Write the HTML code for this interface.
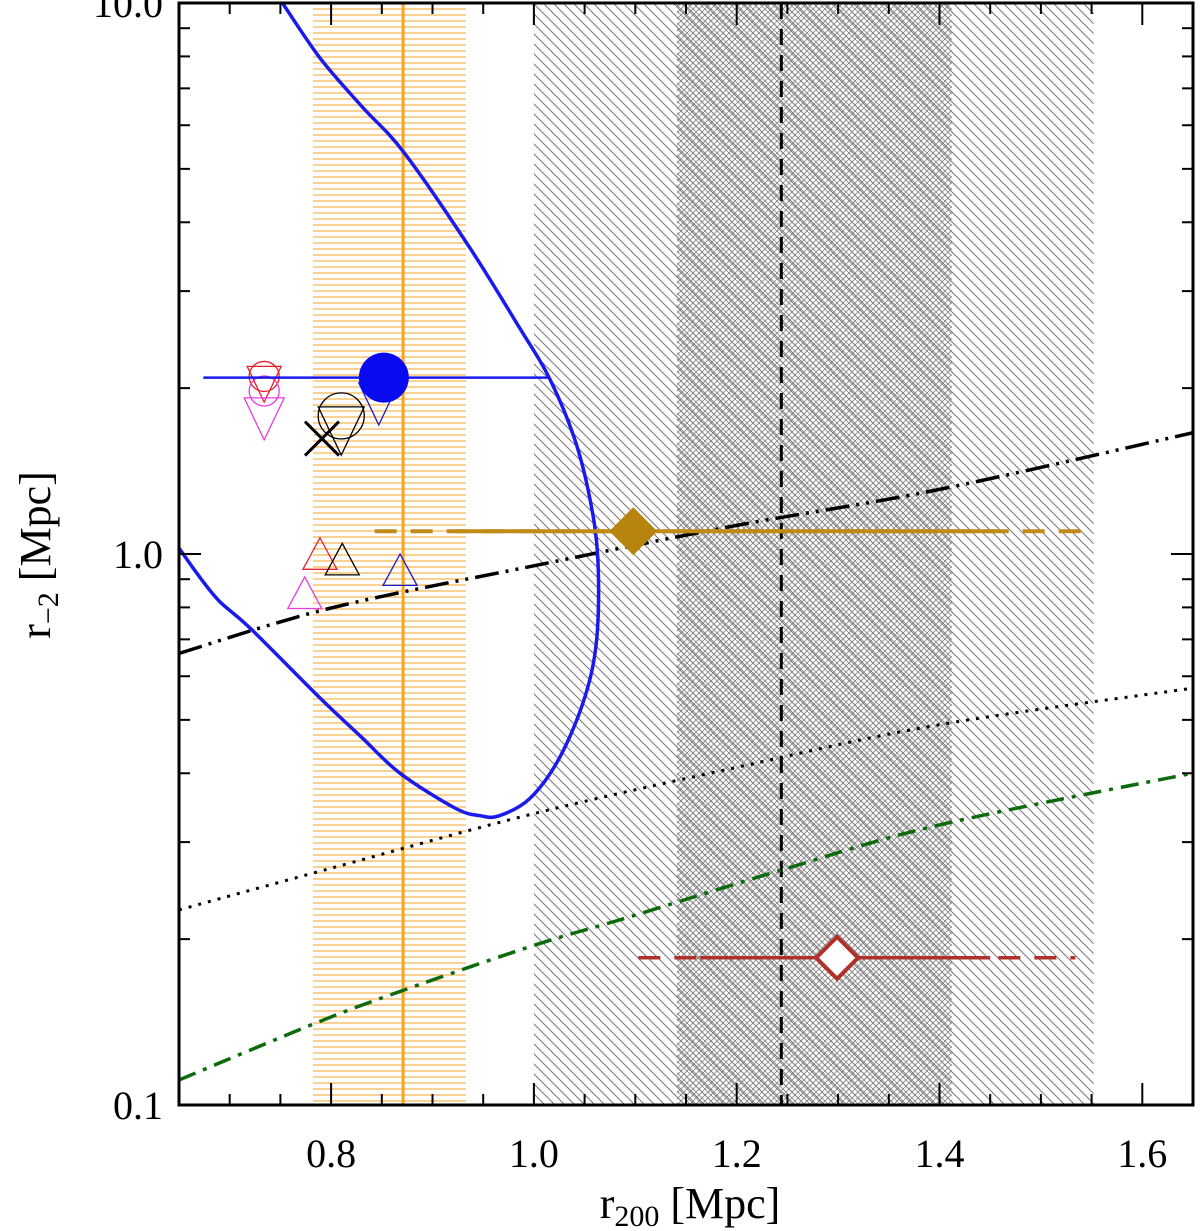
<!DOCTYPE html>
<html><head><meta charset="utf-8"><style>
html,body{margin:0;padding:0;background:#fff;}
svg{display:block;}
</style></head><body>
<svg id="chart" width="1200" height="1231" viewBox="0 0 1200 1231" xmlns="http://www.w3.org/2000/svg">
<defs>
<pattern id="hOrange" patternUnits="userSpaceOnUse" width="8" height="6"><line x1="0" y1="3" x2="8" y2="3" stroke="#f2b24a" stroke-width="1.2"/></pattern>
<pattern id="hDiag" patternUnits="userSpaceOnUse" width="10" height="10"><path d="M-5,-5 L15,15 M-5,5 L5,15 M5,-5 L15,5" stroke="#777" stroke-width="1"/></pattern>
<pattern id="hCross" patternUnits="userSpaceOnUse" width="6" height="6"><path d="M-3,-3 L9,9 M-3,3 L3,9 M3,-3 L9,3 M-3,9 L9,-3 M-3,3 L3,-3 M3,9 L9,3" stroke="#888" stroke-width="0.9"/></pattern>
<clipPath id="plotClip"><rect x="179" y="3" width="1014" height="1102"/></clipPath>
</defs>
<g id="plot" clip-path="url(#plotClip)"></g>
<g id="axes"></g>
<text x="690" y="1218" text-anchor="middle" style="font-family:'Liberation Serif',serif" font-size="44">r<tspan font-size="30" dy="8">200</tspan><tspan dy="-8"> [Mpc]</tspan></text>
<text transform="translate(50,555) rotate(-90)" text-anchor="middle" style="font-family:'Liberation Serif',serif" font-size="44">r<tspan font-size="30" dy="8">−2</tspan><tspan dy="-8"> [Mpc]</tspan></text>
</svg>
<script>
const NS="http://www.w3.org/2000/svg";
// ---- data ----
const xDomain=[0.65,1.65];
const yDomain=[0.1,10];
const xTicks=[0.8,1.0,1.2,1.4,1.6];
const xTickLabels=["0.8","1.0","1.2","1.4","1.6"];
const yTicks=[0.1,1,10];
const yTickLabels=["0.1","1.0","10.0"];
const orangeBand=[0.782,0.933];
const orangeLineX=0.871;
const grayOuter=[1.0,1.552];
const grayInner=[1.141,1.412];
const dashedLineX=1.244;
const contourX=[0.752,0.789,0.830,0.872,0.937,0.986,1.015,1.040,1.055,1.063,1.062,1.050,1.025,0.996,0.966,0.947,0.922,0.868,0.830,0.789,0.720,0.690,0.671,0.65];
const contourY=[10,7.95,6.5,5.35,3.59,2.57,2.09,1.62,1.265,0.984,0.704,0.548,0.426,0.360,0.335,0.335,0.346,0.400,0.465,0.548,0.734,0.82,0.905,1.025];
const dashDotDotX=[0.65,0.8,1.0,1.2,1.4,1.65];
const dashDotDotY=[0.66,0.798,0.952,1.127,1.31,1.66];
const dottedX=[0.65,0.8,1.0,1.2,1.4,1.65];
const dottedY=[0.226,0.269,0.338,0.41,0.49,0.571];
const greenX=[0.65,0.785,0.872,1.001,1.094,1.244,1.4,1.65];
const greenY=[0.111,0.1409,0.1617,0.1951,0.2194,0.2669,0.3223,0.4003];
const bluePoint={x:0.852,y:2.09,lo:0.674,hi:1.015};
const goldPoint={x:1.098,y:1.10,slo:0.922,shi:1.455,dlo:0.843,dhi:1.543};
const redPoint={x:1.299,y:0.185,slo:1.164,shi:1.450,dlo:1.103,dhi:1.534};
const markerNames=["red-circle","magenta-circle","red-down-triangle","magenta-down-triangle","black-circle","black-down-triangle","black-cross","blue-down-triangle","red-up-triangle","black-up-triangle","blue-up-triangle","magenta-up-triangle"];
const markerX=[0.734,0.734,0.734,0.734,0.810,0.810,0.791,0.847,0.789,0.811,0.868,0.774];
const markerY=[2.10,1.976,2.04,1.766,1.781,1.68,1.62,1.88,1.0,0.977,0.935,0.849];
const markerType=["circle","circle","down","down","circle","down","x","down","up","up","up","up"];
const markerColor=["#e8202a","#e83ce0","#e8202a","#e83ce0","#000","#000","#000","#1a1ad0","#e8202a","#000","#1a1ad0","#e83ce0"];
const markerSize=[15,15,17,20,23,23,17,20,17,17,17,17];
// ---- scales ----
const L=179,R=1193,T=3,B=1105;
const sx=v=>L+(v-xDomain[0])/(xDomain[1]-xDomain[0])*(R-L);
const sy=v=>T+(Math.log10(yDomain[1])-Math.log10(v))/(Math.log10(yDomain[1])-Math.log10(yDomain[0]))*(B-T);
const plot=document.getElementById('plot'), axes=document.getElementById('axes');
function el(tag,attrs,parent){const e=document.createElementNS(NS,tag);for(const k in attrs)e.setAttribute(k,attrs[k]);(parent||plot).appendChild(e);return e;}
function band(a,b,fill,name){const e=el('rect',{x:sx(a),y:T,width:sx(b)-sx(a),height:B-T,fill:fill});

}
band(orangeBand[0],orangeBand[1],'url(#hOrange)','orange-hatched-band');
band(grayOuter[0],grayOuter[1],'url(#hDiag)','gray-hatched-band-outer');
band(grayInner[0],grayInner[1],'url(#hCross)','gray-crosshatched-band-inner');
let e;
e=el('line',{x1:sx(orangeLineX),x2:sx(orangeLineX),y1:T,y2:B,stroke:'#f5a623','stroke-width':3});


e=el('line',{x1:sx(dashedLineX),x2:sx(dashedLineX),y1:T,y2:B,stroke:'#000','stroke-width':3,'stroke-dasharray':'16,10'});


function poly(xs,ys,attrs,name){
const pts=xs.map((x,i)=>[sx(x),sy(ys[i])]);
let d='M'+pts[0][0].toFixed(1)+','+pts[0][1].toFixed(1);
for(let i=0;i<pts.length-1;i++){const p0=pts[Math.max(0,i-1)],p1=pts[i],p2=pts[i+1],p3=pts[Math.min(pts.length-1,i+2)];
const c1=[p1[0]+(p2[0]-p0[0])/6,p1[1]+(p2[1]-p0[1])/6],c2=[p2[0]-(p3[0]-p1[0])/6,p2[1]-(p3[1]-p1[1])/6];
d+=` C${c1[0].toFixed(1)},${c1[1].toFixed(1)} ${c2[0].toFixed(1)},${c2[1].toFixed(1)} ${p2[0].toFixed(1)},${p2[1].toFixed(1)}`;}
const p=el('path',Object.assign({d:d,fill:'none'},attrs));

}
poly(greenX,greenY,{stroke:'#0d6b0d','stroke-width':3.5,'stroke-dasharray':'18,8,4,8'},'green-dash-dot-curve');
poly(dottedX,dottedY,{stroke:'#000','stroke-width':3,'stroke-dasharray':'3,7'},'black-dotted-curve');
poly(dashDotDotX,dashDotDotY,{stroke:'#000','stroke-width':3.5,'stroke-dasharray':'24,7,3,7,3,7'},'black-dash-dot-dot-curve');
poly(contourX,contourY,{stroke:'#1a1aee','stroke-width':3.5,'stroke-linejoin':'round'},'blue-contour');
// markers
markerX.forEach((mx,i)=>{const cx=sx(mx),cy=sy(markerY[i]),s=markerSize[i],c=markerColor[i];let m;
if(markerType[i]==='circle')m=el('circle',{cx:cx,cy:cy,r:s,fill:'none',stroke:c,'stroke-width':1.3});
else if(markerType[i]==='down')m=el('polygon',{points:`${cx-s},${cy-s} ${cx+s},${cy-s} ${cx},${cy+s*1.1}`,fill:'none',stroke:c,'stroke-width':1.3});
else if(markerType[i]==='up')m=el('polygon',{points:`${cx-s},${cy+s*0.9} ${cx+s},${cy+s*0.9} ${cx},${cy-s*0.95}`,fill:'none',stroke:c,'stroke-width':1.3});
else m=el('path',{d:`M${cx-s},${cy-s} L${cx+s},${cy+s} M${cx-s},${cy+s} L${cx+s},${cy-s}`,stroke:c,'stroke-width':3,fill:'none'});

});
// blue point
e=el('line',{x1:sx(bluePoint.lo),x2:sx(bluePoint.hi),y1:sy(bluePoint.y),y2:sy(bluePoint.y),stroke:'#1a1aee','stroke-width':2.5});


e=el('circle',{cx:sx(bluePoint.x),cy:sy(bluePoint.y),r:25,fill:'#0a0af0'});


// gold point
e=el('line',{x1:sx(goldPoint.dlo),x2:sx(goldPoint.dhi),y1:sy(goldPoint.y),y2:sy(goldPoint.y),stroke:'#c08a18','stroke-width':4,'stroke-dasharray':'22,14'});


e=el('line',{x1:sx(goldPoint.slo),x2:sx(goldPoint.shi),y1:sy(goldPoint.y),y2:sy(goldPoint.y),stroke:'#c08a18','stroke-width':4});


{const cx=sx(goldPoint.x),cy=sy(goldPoint.y),s=24;
e=el('polygon',{points:`${cx-s},${cy} ${cx},${cy-s} ${cx+s},${cy} ${cx},${cy+s}`,fill:'#b88410'});

}
// red point
e=el('line',{x1:sx(redPoint.dlo),x2:sx(redPoint.dhi),y1:sy(redPoint.y),y2:sy(redPoint.y),stroke:'#b0302a','stroke-width':3.5,'stroke-dasharray':'22,14'});


e=el('line',{x1:sx(redPoint.slo),x2:sx(redPoint.shi),y1:sy(redPoint.y),y2:sy(redPoint.y),stroke:'#b0302a','stroke-width':3.5});


{const cx=sx(redPoint.x),cy=sy(redPoint.y),s=21;
e=el('polygon',{points:`${cx-s},${cy} ${cx},${cy-s} ${cx+s},${cy} ${cx},${cy+s}`,fill:'#fff',stroke:'#b0302a','stroke-width':4});

}
// ---- axes ----
e=el('rect',{x:L,y:T,width:R-L,height:B-T,fill:'none',stroke:'#000','stroke-width':3},axes);


for(let k=13;k<=33;k++){const v=k*0.05;const x=sx(v);const maj=(k%4===0);const len=maj?22:11;
el('line',{x1:x,x2:x,y1:B,y2:B-len,stroke:'#000','stroke-width':2},axes);
el('line',{x1:x,x2:x,y1:T,y2:T+len,stroke:'#000','stroke-width':2},axes);}
xTicks.forEach((v,i)=>{const t=el('text',{x:sx(v),y:1167,'text-anchor':'middle','font-size':40,style:"font-family:'Liberation Serif',serif"},axes);t.textContent=xTickLabels[i];

});
for(let d=0.1;d<10;d*=10){for(let k=1;k<=10;k++){const v=d*k;const y=sy(v);const len=(k===1||k===10)?22:11;
el('line',{x1:L,x2:L+len,y1:y,y2:y,stroke:'#000','stroke-width':2},axes);
el('line',{x1:R,x2:R-len,y1:y,y2:y,stroke:'#000','stroke-width':2},axes);}}
yTicks.forEach((v,i)=>{const t=el('text',{x:163,y:sy(v)+14,'text-anchor':'end','font-size':40,style:"font-family:'Liberation Serif',serif"},axes);t.textContent=yTickLabels[i];

});
</script>
</body></html>
